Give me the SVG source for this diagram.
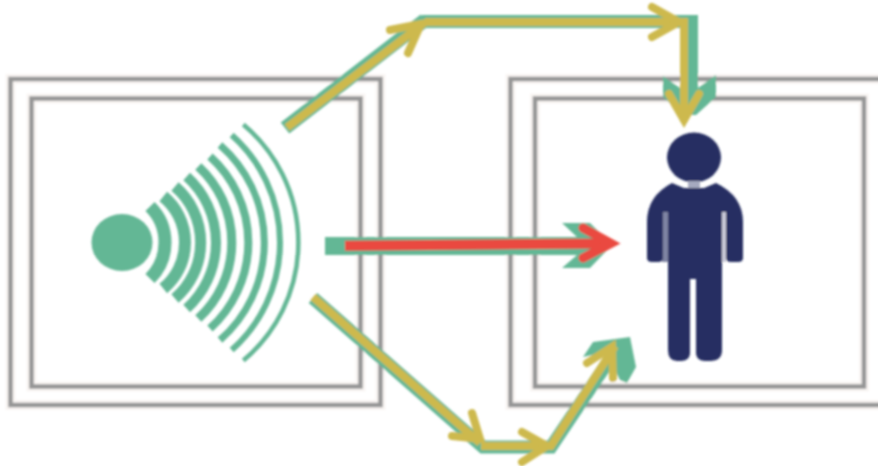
<svg xmlns="http://www.w3.org/2000/svg" width="878" height="466" viewBox="0 0 878 466">
<defs>
<filter id="soft" x="-5%" y="-5%" width="110%" height="110%"><feGaussianBlur stdDeviation="0.9"/></filter>
<style>
.halo{fill:none;stroke:#f9f5f3;stroke-width:10}
.box{fill:none;stroke:#959595;stroke-width:4.500}
.wave{fill:none;stroke:#64b795}
.gl{fill:none;stroke:#64b795;stroke-linejoin:miter}
.gh{fill:#64b795}
.yl{fill:none;stroke:#cdb94d;stroke-width:8;stroke-linejoin:miter}
.yh{fill:none;stroke:#cdb94d;stroke-width:8;stroke-linecap:round;stroke-linejoin:miter;stroke-miterlimit:10}
.rl{fill:none;stroke:#ea4a3f;stroke-width:10}
.rh{fill:none;stroke:#ea4a3f;stroke-width:9;stroke-linecap:round;stroke-linejoin:miter;stroke-miterlimit:10}
</style>
</defs>
<rect width="878" height="466" fill="#ffffff"/>
<g filter="url(#soft)">
<g id="source-node">
<rect class="halo" x="10.500" y="79" width="370" height="326"/>
<rect class="halo" x="31.500" y="98.500" width="329" height="288"/>
<rect class="box" x="10.500" y="79" width="370" height="326"/>
<rect class="box" x="31.500" y="98.500" width="329" height="288"/>
<ellipse cx="122" cy="242.500" rx="30.500" ry="28.500" fill="#64b795"/>
<path class="wave" stroke-width="13" d="M150 206.500A50.700 50.700 0 0 1 150 278.500"/>
<path class="wave" stroke-width="12" d="M163.300 196.500A59.600 59.600 0 0 1 163.300 288.500"/>
<path class="wave" stroke-width="11" d="M175 186.500A73.900 73.900 0 0 1 175 298.500"/>
<path class="wave" stroke-width="10" d="M186.700 176.500A89 89 0 0 1 186.700 308.500"/>
<path class="wave" stroke-width="9" d="M198.300 166.500A103 103 0 0 1 198.300 318.500"/>
<path class="wave" stroke-width="8" d="M210 156.500A115.700 115.700 0 0 1 210 328.500"/>
<path class="wave" stroke-width="7" d="M220 145A129.400 129.400 0 0 1 220 340"/>
<path class="wave" stroke-width="6" d="M231.700 135A143.800 143.800 0 0 1 231.700 350"/>
<path class="wave" stroke-width="4.500" d="M243.300 124.500A154 154 0 0 1 243.300 360.500"/>
</g>
<g id="receiver-node">
<path class="halo" d="M885 79H510.500V405H885"/>
<rect class="halo" x="535" y="98.500" width="329" height="288"/>
<path class="box" d="M885 79H510.500V405H885"/>
<rect class="box" x="535" y="98.500" width="329" height="288"/>
<rect x="662" y="212" width="9" height="50" fill="#7f84a3"/>
<rect x="720" y="212" width="6" height="50" fill="#c9cad8"/>
<ellipse cx="694" cy="157.500" rx="27" ry="25" fill="#252e62"/>
<rect x="688" y="181" width="12" height="7" fill="#a6a9bf"/>
<path fill="#252e62" d="M647 222Q647 196 672 183L684 188H704L716 183Q743 196 743 222V258Q743 262 738 262H731Q726 262 726 258V212H722V350Q722 361 710 361H705Q697 361 696 354V279H690V354Q689 361 681 361H677Q668 361 668 350V212H663V258Q663 262 658 262H652Q647 262 647 258Z"/>
</g>
<g id="connectors">
<path class="gl" stroke-width="14" d="M285 128L425 20"/>
<path class="gl" stroke-width="13" d="M422 21.500H691.500V90"/>
<path class="gh" d="M663 76L680 88H698L716 75V97L696 115H684L663 97Z"/>
<path class="gl" stroke-width="18" d="M325 246H590"/>
<path class="gh" d="M562 223H590L612 245L590 268H562L577 255V237Z"/>
<path class="gl" stroke-width="13" d="M313 298L483 447H551L618 347"/>
<path class="gh" d="M583 357L593 342L630 337L636 367L627 383L620 380L606 352Z"/>
<path class="yl" d="M287 127.500L424 23"/>
<path class="yh" d="M390 30L421 24L408 53"/>
<path class="yl" d="M425 22H684V122"/>
<path class="yh" d="M652 7L679 22L652 37"/>
<path class="yh" d="M669 94L684 120L699 94"/>
<path class="rl" d="M345 245.700L610 243.500"/>
<path class="rh" d="M583 228L611 243.300L583 258"/>
<path class="yl" d="M313 297L480 443"/>
<path class="yh" d="M472 413L480 439L452 436"/>
<path class="yl" d="M481 446H551L615 346"/>
<path class="yh" d="M522 432L547 446L522 462"/>
<path class="yh" d="M587 363L612 347L613 378"/>
</g>
</g>
</svg>
